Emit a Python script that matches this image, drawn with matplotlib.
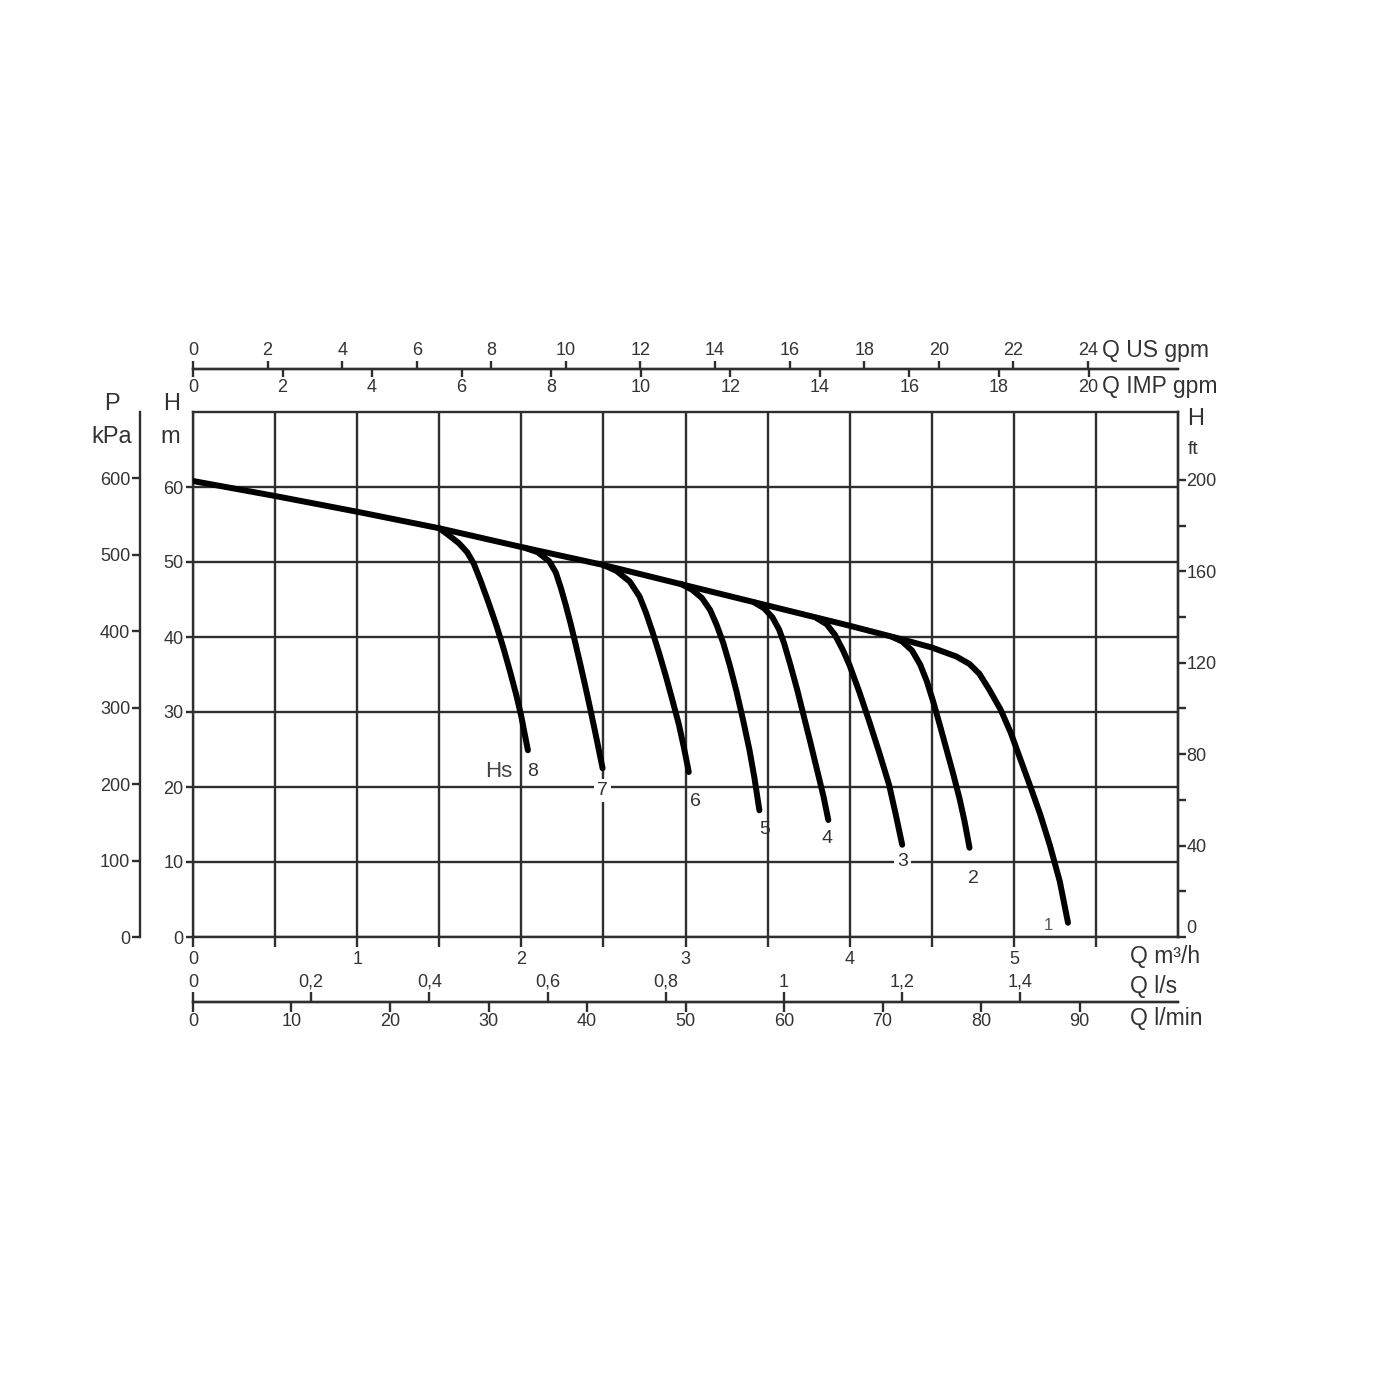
import matplotlib
matplotlib.use("Agg")
import matplotlib.pyplot as plt
from matplotlib.ticker import FixedLocator, NullFormatter

plt.rcParams['font.family'] = ['Liberation Sans', 'DejaVu Sans']

# ---------------- data (Q in m3/h, H in m) ----------------
q1 = [0.0, 0.5, 1.0, 1.5, 2.0, 2.5, 3.0, 3.5, 4.0, 4.3, 4.5, 4.65, 4.73,
      4.79, 4.85, 4.92, 4.98, 5.04, 5.10, 5.16, 5.22, 5.28, 5.33]
h1 = [60.8, 58.8, 56.7, 54.5, 52.0, 49.6, 46.9, 44.2, 41.5, 39.8, 38.6, 37.4, 36.4,
      35.1, 33.0, 30.3, 27.3, 23.7, 20.1, 16.4, 12.2, 7.4, 1.9]
q2 = [4.26, 4.32, 4.38, 4.43, 4.47, 4.51, 4.55, 4.59, 4.63, 4.67, 4.70, 4.73]
h2 = [40.0, 39.4, 38.2, 36.3, 34.1, 31.3, 28.2, 25.0, 21.8, 18.4, 15.4, 11.9]
q3 = [3.80, 3.86, 3.91, 3.96, 4.00, 4.06, 4.12, 4.18, 4.24, 4.28, 4.32]
h3 = [42.5, 41.7, 40.3, 38.2, 36.2, 32.6, 28.7, 24.6, 20.3, 16.4, 12.3]
q4 = [3.42, 3.48, 3.53, 3.57, 3.60, 3.64, 3.68, 3.72, 3.76, 3.80, 3.84, 3.87]
h4 = [44.6, 43.8, 42.6, 41.0, 39.2, 36.2, 33.0, 29.5, 26.0, 22.4, 18.8, 15.6]
q5 = [2.97, 3.04, 3.10, 3.15, 3.19, 3.23, 3.27, 3.31, 3.35, 3.39, 3.42, 3.45]
h5 = [47.1, 46.3, 45.2, 43.6, 41.6, 39.2, 36.2, 32.8, 29.0, 24.9, 21.2, 16.9]
q6 = [2.50, 2.58, 2.66, 2.72, 2.76, 2.80, 2.84, 2.88, 2.92, 2.96, 2.99, 3.02]
h6 = [49.6, 48.8, 47.4, 45.4, 43.2, 40.6, 37.8, 34.8, 31.6, 28.3, 25.3, 22.0]
q7 = [2.02, 2.10, 2.17, 2.21, 2.24, 2.27, 2.30, 2.33, 2.36, 2.39, 2.42, 2.45, 2.48, 2.495]
h7 = [51.9, 51.3, 50.1, 48.6, 46.6, 44.3, 41.8, 39.1, 36.3, 33.4, 30.4, 27.3, 24.1, 22.5]
q8 = [1.50, 1.55, 1.62, 1.67, 1.71, 1.75, 1.80, 1.85, 1.89, 1.93, 1.97, 2.00, 2.04]
h8 = [54.5, 53.7, 52.5, 51.3, 49.8, 47.6, 44.6, 41.4, 38.6, 35.5, 32.2, 29.4, 24.9]
curve_names = ["1", "2", "3", "4", "5", "6", "7", "8"]

m3h_ticks = [0, 1, 2, 3, 4, 5]
ls_ticks = [0, 0.2, 0.4, 0.6, 0.8, 1.0, 1.2, 1.4]
ls_labels = ["0", "0,2", "0,4", "0,6", "0,8", "1", "1,2", "1,4"]
lmin_ticks = [0, 10, 20, 30, 40, 50, 60, 70, 80, 90]
usgpm_ticks = [0, 2, 4, 6, 8, 10, 12, 14, 16, 18, 20, 22, 24]
impgpm_ticks = [0, 2, 4, 6, 8, 10, 12, 14, 16, 18, 20]
hm_ticks = [0, 10, 20, 30, 40, 50, 60]
kpa_ticks = [0, 100, 200, 300, 400, 500, 600]
ft_ticks = [0, 40, 80, 120, 160, 200]
ft_minor = [20, 60, 100, 140, 180]

# ---------------- layout ----------------
FIG = 1400
fig = plt.figure(figsize=(14, 14), dpi=100)
fig.patch.set_facecolor('white')

def fx(px):
    return px / FIG

def fy(py):
    return 1 - py / FIG

L, R, T, B = 193, 1178, 412, 937
ax = fig.add_axes([fx(L), fy(B), fx(R) - fx(L), fy(T) - fy(B)])
ax.set_xlim(0, 6)
ax.set_ylim(0, 70)

GRID = '#2e2e2e'
TXT = '#333333'
LW = 1.7
TS = 13

for s in ax.spines.values():
    s.set_linewidth(LW)
    s.set_color(GRID)

ax.xaxis.set_major_locator(FixedLocator(m3h_ticks))
ax.xaxis.set_minor_locator(FixedLocator([0.5, 1.5, 2.5, 3.5, 4.5, 5.5]))
ax.yaxis.set_major_locator(FixedLocator(hm_ticks))
ax.grid(which='both', axis='x', color=GRID, lw=LW)
ax.grid(which='major', axis='y', color=GRID, lw=LW)
ax.tick_params(axis='x', which='both', direction='out', length=7, width=LW,
               color=GRID, labelsize=TS, labelcolor=TXT, pad=3)
ax.tick_params(axis='y', which='both', direction='out', length=5, width=LW,
               color=GRID, labelsize=TS, labelcolor=TXT, pad=2)
ax.set_axisbelow(True)

# curves
curves = [(q1, h1), (q2, h2), (q3, h3), (q4, h4), (q5, h5), (q6, h6), (q7, h7), (q8, h8)]
for q, h in curves:
    ax.plot(q, h, color='black', lw=4.3, solid_capstyle='round', solid_joinstyle='round', zorder=3)

# curve number labels (offsets in points from curve end)
offsets = {"1": (-14, -2), "2": (3, -22), "3": (0, -12), "4": (-1, -13), "5": (4, -14),
           "6": (5, -21), "7": (0, -16), "8": (3, -15)}
for name, (q, h) in zip(curve_names, curves):
    dx, dy = offsets[name]
    bbox = None
    if name in ("3", "7"):
        bbox = dict(boxstyle='square,pad=0.15', fc='white', ec='none')
    ax.annotate(name, xy=(q[-1], h[-1]), xytext=(dx, dy), textcoords='offset points',
                ha='center', va='center', fontsize=14 if name != "1" else 12,
                color=TXT if name != "1" else '#555555', bbox=bbox, zorder=4)
ax.annotate("Hs", xy=(q8[-1], h8[-1]), xytext=(-21, -15), textcoords='offset points',
            ha='center', va='center', fontsize=16, color='#444444', zorder=4)

# ---------------- secondary scales ----------------
def style_sec(sec, axis):
    for s in sec.spines.values():
        s.set_linewidth(LW)
        s.set_color(GRID)
    sec.tick_params(axis=axis, which='both', direction='out', width=LW, color=GRID,
                    labelsize=TS, labelcolor=TXT)

# top: US gpm (above) / IMP gpm (below)
loc_top = (B - 369) / (B - T)
us = ax.secondary_xaxis(loc_top, functions=(lambda x: x / 0.2271247, lambda g: g * 0.2271247))
us.set_xticks(usgpm_ticks)
style_sec(us, 'x')
us.set_alignment('top')
us.tick_params(axis='x', length=6, pad=1)

imp = ax.secondary_xaxis(loc_top, functions=(lambda x: x / 0.2727655, lambda g: g * 0.2727655))
imp.set_xticks(impgpm_ticks)
style_sec(imp, 'x')
imp.set_alignment('bottom')
imp.tick_params(axis='x', length=6, pad=1)

# bottom: l/s (above) / l/min (below)
loc_bot = (B - 1002) / (B - T)
ls = ax.secondary_xaxis(loc_bot, functions=(lambda x: x / 3.6, lambda v: v * 3.6))
ls.set_xticks(ls_ticks, ls_labels)
style_sec(ls, 'x')
ls.set_alignment('top')
ls.tick_params(axis='x', length=7, pad=1)

lmin = ax.secondary_xaxis(loc_bot, functions=(lambda x: x * 1000 / 60, lambda v: v * 60 / 1000))
lmin.set_xticks(lmin_ticks)
style_sec(lmin, 'x')
lmin.set_alignment('bottom')
lmin.tick_params(axis='x', length=7, pad=1)

# left: P kPa
loc_p = (140 - L) / (R - L)
pk = ax.secondary_yaxis(loc_p, functions=(lambda m: m * 9.80665, lambda p: p / 9.80665))
pk.set_yticks(kpa_ticks)
style_sec(pk, 'y')
pk.tick_params(axis='y', length=6, pad=1)

# right: H ft
ft = ax.secondary_yaxis('right', functions=(lambda m: m * 3.28084, lambda f: f / 3.28084))
ft.set_yticks(ft_ticks)
ft.yaxis.set_minor_locator(FixedLocator(ft_minor))
ft.yaxis.set_minor_formatter(NullFormatter())
style_sec(ft, 'y')
ft.tick_params(axis='y', which='both', length=6, pad=0)
for lab in ft.get_yticklabels():
    if lab.get_text() == '0':
        lab.set_va('bottom')

# ---------------- unit labels ----------------
def ftxt(px, py, s, size=16, ha='left'):
    fig.text(fx(px), fy(py), s, fontsize=size, color=TXT, ha=ha, va='center')

ftxt(112, 404, "P", 17, 'center')
ftxt(112, 437, "kPa", 17, 'center')
ftxt(172, 404, "H", 17, 'center')
ftxt(170, 437, "m", 17, 'center')
ftxt(1196, 419, "H", 17, 'center')
ftxt(1193, 450, "ft", 14, 'center')
ftxt(1102, 351, "Q US gpm", 16.5)
ftxt(1102, 387, "Q IMP gpm", 16.5)
ftxt(1130, 957, "Q m³/h", 16.5)
ftxt(1130, 986, "Q l/s", 16.5)
ftxt(1130, 1018, "Q l/min", 16.5)

fig.savefig("out.png", dpi=100, facecolor='white')
